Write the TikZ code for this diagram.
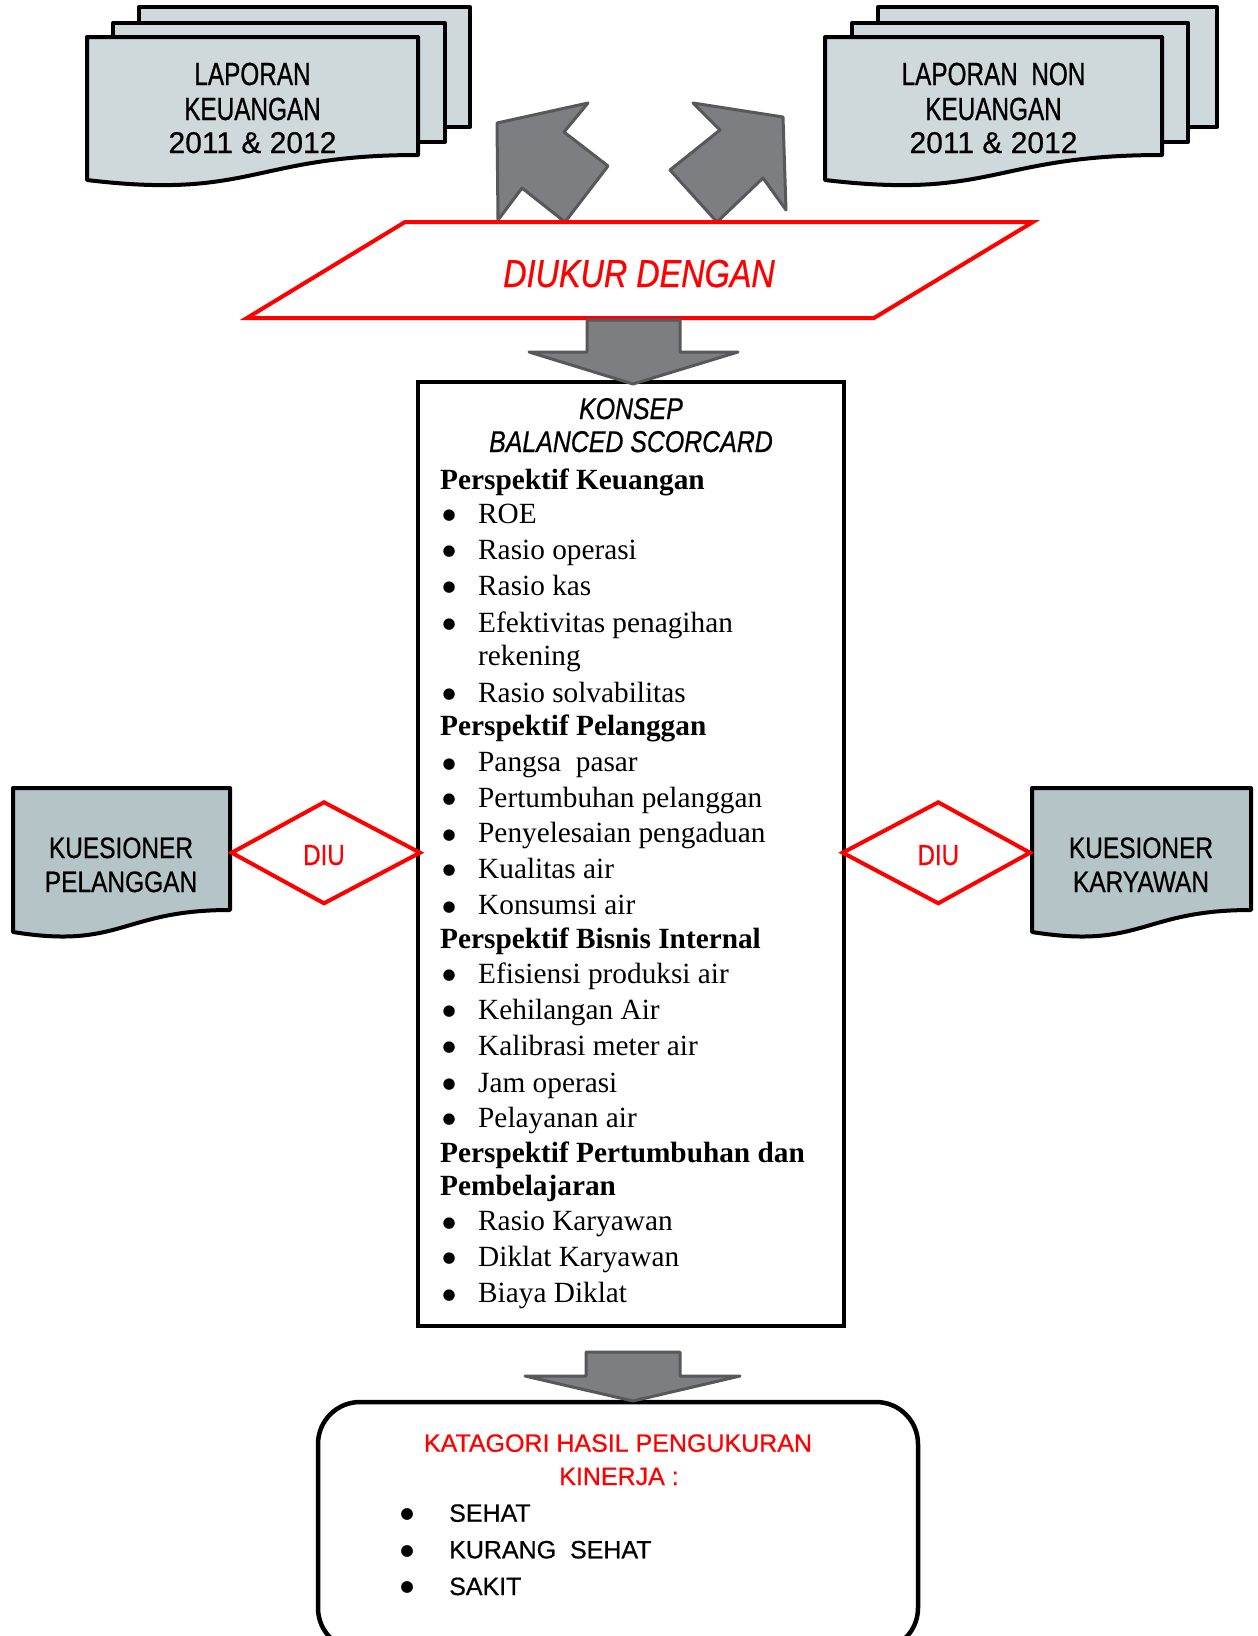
\documentclass[tikz,border=0pt]{standalone}
\usepackage{fontspec}
\setmainfont{Liberation Serif}
\newfontfamily\sfnorm[FakeBold=0.6]{Liberation Sans}
\newfontfamily\nfA[FakeStretch=0.76,FakeBold=0.8]{Liberation Sans}
\newfontfamily\nfB[FakeStretch=0.83,FakeBold=0.7]{Liberation Sans}
\newfontfamily\bulfont{DejaVu Sans}
\definecolor{docA}{RGB}{207,216,219}
\definecolor{docB}{RGB}{181,196,199}
\definecolor{arrfill}{RGB}{125,126,130}
\definecolor{arrline}{RGB}{88,88,91}
\definecolor{redc}{RGB}{255,0,0}
\newcommand\docshape[6][]{\filldraw[#1] (#2,#3) -- (#4,#3) -- (#4,#5) .. controls ({(#2+#4)/2},#5) and ({(#2+#4)/2},{#5+1.8*(#6-#5)}) .. (#2,#6) -- cycle;}
\newcommand\mybul{\makebox[58pt][c]{\raisebox{3.4pt}{\bulfont\fontsize{15}{17}\selectfont ●}}}
\newcommand\mybbul{\makebox[84pt][c]{\raisebox{3.2pt}{\bulfont\fontsize{15.5}{17}\selectfont ●}}}
\begin{document}
\begin{tikzpicture}[x=1pt,y=-1pt,
  docline/.style={draw=black, line width=4pt, line join=round},
  bigarrow/.style={fill=arrfill, draw=arrline, line width=3pt, line join=round},
  redline/.style={draw=redc, line width=4pt, line join=miter},
  tx/.style={inner sep=0pt, anchor=base west},
  ctr/.style={inner sep=0pt, anchor=base},
  serif/.style={font=\fontsize{29.3}{35}\selectfont},
  serifb/.style={font=\fontsize{29.3}{35}\selectfont\bfseries},
  item/.style={tx, serif, xshift=-58pt},
  bitem/.style={tx, font=\sfnorm\fontsize{25}{30}\selectfont, xshift=-84pt}
]
\clip (0,0) rectangle (1258,1636);
\fill[white] (0,0) rectangle (1258,1636);

% ---------- top-left document stack ----------
\filldraw[docline, fill=docA] (139,7) rectangle (470,127);
\filldraw[docline, fill=docA] (113,23) rectangle (445,142);
\docshape[docline, fill=docA]{87}{37}{418}{155}{180}
\node[ctr, font=\nfA\fontsize{32}{38}\selectfont] (lk1) at (252.5,85) {LAPORAN};
\node[ctr, font=\nfA\fontsize{32}{38}\selectfont] (lk2) at (252.5,120) {KEUANGAN};
\node[ctr, font=\sfnorm\fontsize{30}{36}\selectfont] (lk3) at (252.5,153) {2011 \& 2012};

% ---------- top-right document stack ----------
\filldraw[docline, fill=docA] (878,7) rectangle (1217,127);
\filldraw[docline, fill=docA] (852,23) rectangle (1188,142);
\docshape[docline, fill=docA]{825}{37}{1162}{155}{180}
\node[ctr, font=\nfA\fontsize{32}{38}\selectfont] (ln1) at (993.5,85) {LAPORAN\ \ NON};
\node[ctr, font=\nfA\fontsize{32}{38}\selectfont] (ln2) at (993.5,120) {KEUANGAN};
\node[ctr, font=\sfnorm\fontsize{30}{36}\selectfont] (ln3) at (993.5,153) {2011 \& 2012};

% ---------- up arrows ----------
\filldraw[bigarrow] (498,220) -- (497,123) -- (588,103) -- (564,132) -- (608,166) -- (565,222) -- (522,188) -- cycle;
\filldraw[bigarrow] (693,103) -- (783,117) -- (786,210) -- (763,178) -- (717,222) -- (670,170) -- (720,130) -- cycle;

% ---------- parallelogram ----------
\filldraw[redline, fill=white] (405,222) -- (1033,222) -- (874,318) -- (247,318) -- cycle;
\node[ctr, text=redc, font=\nfB\itshape\fontsize{39}{46}\selectfont] (diukur) at (639,287) {DIUKUR DENGAN};

% ---------- main box ----------
\node[draw=black, line width=3.5pt, fill=white, minimum width=426pt, minimum height=944pt, inner sep=0pt] (bsc) at (631,854) {};
\filldraw[bigarrow] (587,320) -- (680,320) -- (680,352) -- (738,352) -- (633,384) -- (529,352) -- (587,352) -- cycle;

\node[ctr, font=\nfB\itshape\fontsize{30}{36}\selectfont] (t1) at (631,419) {KONSEP};
\node[ctr, font=\nfB\itshape\fontsize{30}{36}\selectfont] (t2) at (631,452) {BALANCED SCORCARD};

\node[tx, serifb] (h1) at (440,489) {Perspektif Keuangan};
\node[item] (i1) at (478,523) {\mybul ROE};
\node[item] (i2) at (478,559) {\mybul Rasio operasi};
\node[item] (i3) at (478,595) {\mybul Rasio kas};
\node[item] (i4) at (478,632) {\mybul Efektivitas penagihan};
\node[tx, serif] (i4b) at (478,665) {rekening};
\node[item] (i5) at (478,702) {\mybul Rasio solvabilitas};

\node[tx, serifb] (h2) at (440,735) {Perspektif Pelanggan};
\node[item] (i6) at (478,771.5) {\mybul Pangsa\ \ pasar};
\node[item] (i7) at (478,807) {\mybul Pertumbuhan pelanggan};
\node[item] (i8) at (478,842.5) {\mybul Penyelesaian pengaduan};
\node[item] (i9) at (478,878) {\mybul Kualitas air};
\node[item] (i10) at (478,914.5) {\mybul Konsumsi air};

\node[tx, serifb] (h3) at (440,948) {Perspektif Bisnis Internal};
\node[item] (i11) at (478,983) {\mybul Efisiensi produksi air};
\node[item] (i12) at (478,1019) {\mybul Kehilangan Air};
\node[item] (i13) at (478,1055) {\mybul Kalibrasi meter air};
\node[item] (i14) at (478,1092) {\mybul Jam operasi};
\node[item] (i15) at (478,1127) {\mybul Pelayanan air};

\node[tx, serifb] (h4) at (440,1162) {Perspektif Pertumbuhan dan};
\node[tx, serifb] (h4b) at (440,1195) {Pembelajaran};
\node[item] (i16) at (478,1230.5) {\mybul Rasio Karyawan};
\node[item] (i17) at (478,1266) {\mybul Diklat Karyawan};
\node[item] (i18) at (478,1302.5) {\mybul Biaya Diklat};

% ---------- left questionnaire + diamond ----------
\docshape[docline, fill=docB]{13}{788}{230}{910}{932}
\node[ctr, font=\nfB\fontsize{29.5}{35}\selectfont] (kp1) at (121,858) {KUESIONER};
\node[ctr, font=\nfB\fontsize{29.5}{35}\selectfont] (kp2) at (121,892) {PELANGGAN};
\filldraw[redline, fill=white] (231.7,852.7) -- (324,802.3) -- (420,852.7) -- (324,903.3) -- cycle;
\node[ctr, text=redc, font=\nfB\fontsize{29}{35}\selectfont] (diu1) at (324,865) {DIU};

% ---------- right questionnaire + diamond ----------
\docshape[docline, fill=docB]{1032}{788}{1251}{910}{932}
\node[ctr, font=\nfB\fontsize{29.5}{35}\selectfont] (kk1) at (1141,858) {KUESIONER};
\node[ctr, font=\nfB\fontsize{29.5}{35}\selectfont] (kk2) at (1141,892) {KARYAWAN};
\filldraw[redline, fill=white] (842.7,852.7) -- (938.3,802.3) -- (1030,852.7) -- (938.3,903.3) -- cycle;
\node[ctr, text=redc, font=\nfB\fontsize{29}{35}\selectfont] (diu2) at (938.3,865) {DIU};

% ---------- bottom box ----------
\draw[line width=4.5pt, rounded corners=42pt] (318,1402) rectangle (918,1650);
\filldraw[bigarrow] (586,1352) -- (680,1352) -- (680,1376) -- (740,1376) -- (633,1401) -- (525,1376) -- (586,1376) -- cycle;
\node[ctr, text=redc, font=\sfnorm\fontsize{25}{30}\selectfont] (k1) at (618,1451.7) {KATAGORI HASIL PENGUKURAN};
\node[ctr, text=redc, font=\sfnorm\fontsize{25}{30}\selectfont] (k2) at (619,1485) {KINERJA :};
\node[bitem] (s1) at (449,1521.7) {\mybbul SEHAT};
\node[bitem] (s2) at (449,1558.3) {\mybbul KURANG\ \ SEHAT};
\node[bitem] (s3) at (449,1595) {\mybbul SAKIT};
\end{tikzpicture}
\end{document}
